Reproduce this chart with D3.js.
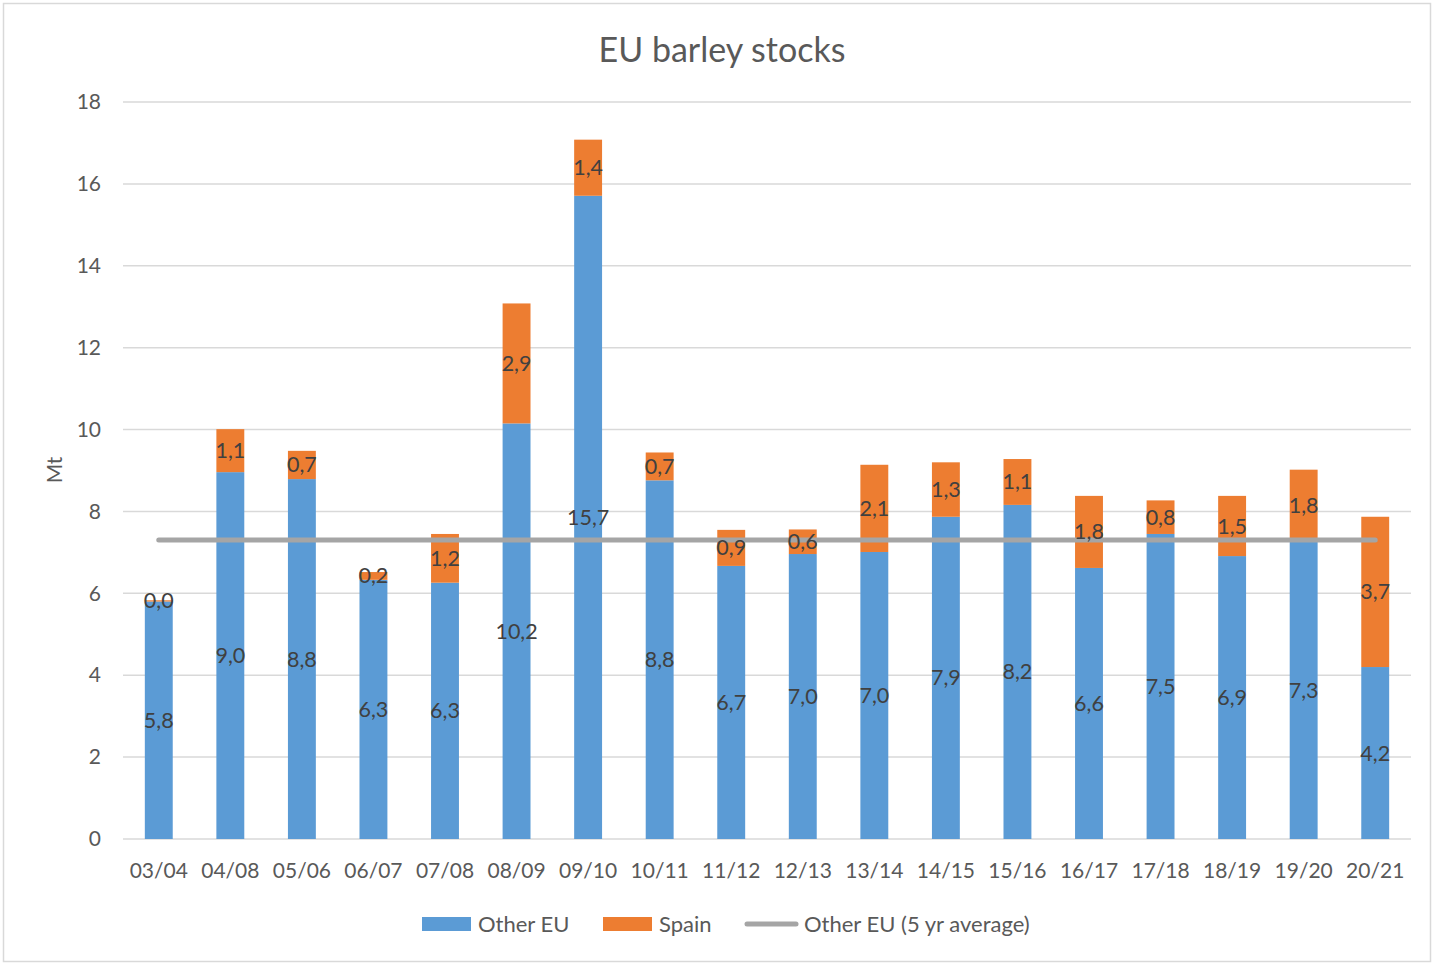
<!DOCTYPE html>
<html><head><meta charset="utf-8">
<script src="https://cdn.jsdelivr.net/npm/d3@7"></script>
<style>html,body{margin:0;padding:0;background:#fff;}svg{display:block;font-family:Lato,"Liberation Sans",sans-serif;}</style>
</head><body><svg id="c" width="1434" height="966"></svg>
<script>
const categories = ["03/04","04/08","05/06","06/07","07/08","08/09","09/10","10/11","11/12","12/13","13/14","14/15","15/16","16/17","17/18","18/19","19/20","20/21"];
const otherEU = [5.80,8.96,8.79,6.33,6.26,10.15,15.71,8.76,6.67,6.96,7.01,7.87,8.16,6.62,7.45,6.91,7.26,4.20];
const spain   = [0.03,1.05,0.69,0.19,1.19,2.93,1.37,0.68,0.88,0.60,2.13,1.33,1.12,1.76,0.82,1.47,1.76,3.67];
const avgOtherEU = categories.map(() => 7.3);
const yTicks = [0,2,4,6,8,10,12,14,16,18];
const title = "EU barley stocks";
const yTitle = "Mt";
const seriesNames = ["Other EU","Spain","Other EU (5 yr average)"];
const colors = {other:"#5B9BD5", spain:"#ED7D31", avg:"#A5A5A5"};

const svg = d3.select("#c");
svg.append("rect").attr("x",3.5).attr("y",3.5).attr("width",1427).attr("height",958)
  .attr("fill","#fff").attr("stroke","#D9D9D9").attr("stroke-width",1.5);

const x = d3.scaleBand().domain(categories).range([123,1411]).paddingInner(0.61).paddingOuter(0.305);
const y = d3.scaleLinear().domain([0,18]).range([839,102]);
const fmt = v => d3.format(".1f")(v).replace(".",",");

// gridlines
svg.append("g").selectAll("line").data(yTicks).join("line")
  .attr("x1",123).attr("x2",1411).attr("y1",d=>y(d)).attr("y2",d=>y(d))
  .attr("stroke","#D9D9D9").attr("stroke-width",1.5);

// y axis
const yAxis = svg.append("g").attr("transform","translate(123,0)")
  .call(d3.axisLeft(y).tickValues(yTicks).tickSize(0).tickPadding(22).tickFormat(d3.format("d")));
yAxis.select(".domain").remove();
yAxis.selectAll("text").attr("font-size",21).attr("fill","#595959").attr("font-family","Lato");

// x axis
const xAxis = svg.append("g").attr("transform","translate(0,839)")
  .call(d3.axisBottom(x).tickSize(0).tickPadding(24));
xAxis.select(".domain").remove();
xAxis.selectAll("text").attr("font-size",21).attr("fill","#595959").attr("font-family","Lato");

const data = categories.map((c,i)=>({c, o:otherEU[i], s:spain[i]}));

// bars
svg.append("g").selectAll("rect").data(data).join("rect")
  .attr("x",d=>x(d.c)).attr("width",x.bandwidth())
  .attr("y",d=>y(d.o)).attr("height",d=>y(0)-y(d.o)).attr("fill",colors.other);
svg.append("g").selectAll("rect").data(data).join("rect")
  .attr("x",d=>x(d.c)).attr("width",x.bandwidth())
  .attr("y",d=>y(d.o+d.s)).attr("height",d=>y(d.o)-y(d.o+d.s)).attr("fill",colors.spain);

// average line
const line = d3.line().x((d,i)=>x(categories[i])+x.bandwidth()/2).y(d=>y(d));
svg.append("path").datum(avgOtherEU).attr("d",line).attr("fill","none")
  .attr("stroke",colors.avg).attr("stroke-width",5).attr("stroke-linecap","round");

// labels
const lbl = svg.append("g").attr("font-size",21.5).attr("fill","#404040").attr("text-anchor","middle").attr("font-family","Lato");
lbl.selectAll("text.o").data(data).join("text").attr("class","o")
  .attr("x",d=>x(d.c)+x.bandwidth()/2).attr("y",d=>y(d.o/2)).attr("dy","0.35em").text(d=>fmt(d.o));
lbl.selectAll("text.s").data(data).join("text").attr("class","s")
  .attr("x",d=>x(d.c)+x.bandwidth()/2).attr("y",d=>y(d.o+d.s/2)).attr("dy","0.35em").text(d=>fmt(d.s));

// title
svg.append("text").attr("x",722).attr("y",50).attr("dy","0.35em").attr("text-anchor","middle")
  .attr("font-size",34).attr("fill","#595959").text(title);
// y title
svg.append("text").attr("transform","translate(55,470) rotate(-90)").attr("dy","0.35em").attr("text-anchor","middle")
  .attr("font-size",21).attr("fill","#595959").text(yTitle);

// legend
const lg = svg.append("g").attr("font-size",22).attr("fill","#595959");
const ly = 924;
lg.append("rect").attr("x",422).attr("y",ly-7).attr("width",49).attr("height",14).attr("fill",colors.other);
lg.append("text").attr("x",478).attr("y",ly).attr("dy","0.35em").text(seriesNames[0]);
lg.append("rect").attr("x",603).attr("y",ly-7).attr("width",49).attr("height",14).attr("fill",colors.spain);
lg.append("text").attr("x",659).attr("y",ly).attr("dy","0.35em").text(seriesNames[1]);
lg.append("line").attr("x1",747).attr("x2",796).attr("y1",ly).attr("y2",ly).attr("stroke",colors.avg).attr("stroke-width",5).attr("stroke-linecap","round");
lg.append("text").attr("x",804).attr("y",ly).attr("dy","0.35em").text(seriesNames[2]);
</script></body></html>
